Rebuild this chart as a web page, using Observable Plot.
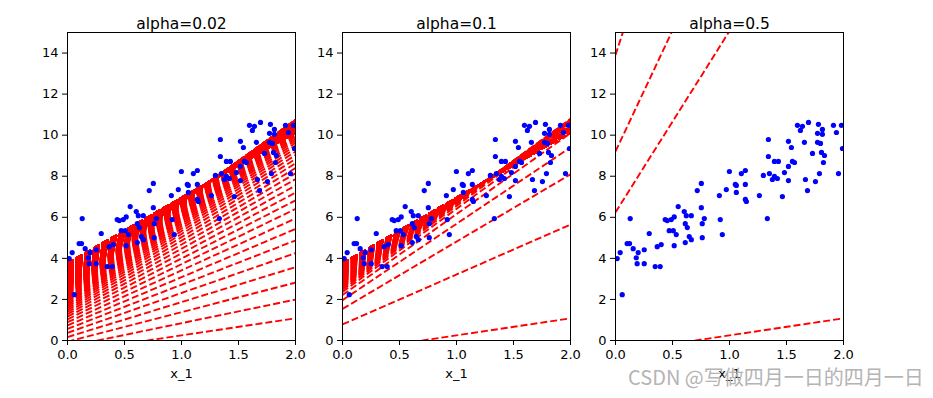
<!DOCTYPE html>
<html><head><meta charset="utf-8">
<script src="https://cdn.jsdelivr.net/npm/d3@7"></script>
<script src="https://cdn.jsdelivr.net/npm/@observablehq/plot@0.6"></script>
<style>
body{margin:0;background:#fff;}
#wrap{position:relative;width:933px;height:398px;overflow:hidden;background:#fff;}
.panel{position:absolute;top:0;}
#wm{position:absolute;left:628px;top:364px;font-size:20px;font-family:"Noto Sans CJK SC","Noto Sans",sans-serif;color:#b4b4b4;white-space:nowrap;line-height:26px;}
</style></head><body>
<div id="wrap"><div id="wm">CSDN @写做四月一日的四月一日</div></div>
<script>
// scatter data
const xData = [0.015,0.041,0.059,0.102,0.123,0.129,0.155,0.182,0.190,0.199,0.252,0.252,0.296,0.348,0.366,0.392,0.401,0.436,0.454,0.471,0.489,0.507,0.515,0.515,0.533,0.550,0.603,0.612,0.621,0.630,0.612,0.647,0.665,0.665,0.717,0.753,0.753,0.761,0.761,0.779,0.911,0.919,0.937,0.972,0.999,1.051,1.060,1.060,1.104,1.139,1.139,1.139,1.148,1.262,1.297,1.332,1.341,1.341,1.350,1.376,1.394,1.394,1.420,1.429,1.464,1.482,1.517,1.517,1.517,1.543,1.552,1.570,1.596,1.622,1.640,1.657,1.666,1.684,1.693,1.728,1.754,1.772,1.772,1.780,1.789,1.798,1.815,1.815,1.824,1.833,1.912,1.938,1.956,1.982,1.991,1.807];
const yData = [3.99,4.28,2.23,4.72,4.72,5.94,4.47,4.03,3.74,4.28,4.42,3.74,5.21,3.60,4.57,3.60,4.67,5.89,5.84,5.35,5.89,5.35,6.02,4.62,5.16,6.52,6.28,5.69,6.08,5.50,4.77,5.06,6.08,4.91,7.30,7.65,6.47,5.69,5.01,5.94,7.06,5.89,5.16,7.35,8.23,7.60,7.21,7.55,8.13,8.28,7.60,6.87,6.77,7.06,8.04,5.94,9.79,8.96,8.13,7.84,8.72,7.99,7.89,8.72,7.01,8.18,9.70,8.48,7.79,9.40,8.72,8.67,10.48,10.23,10.43,9.65,7.84,7.30,10.62,9.11,7.74,10.09,9.65,10.53,8.13,9.60,10.28,10.04,8.67,9.01,10.48,10.13,8.13,10.48,9.35,9.16];
// learning rates, starting parameters, iterations
const etas = [0.02, 0.1, 0.5];
const titles = ["alpha=0.02", "alpha=0.1", "alpha=0.5"];
const theta0 = [-0.58, 0.83];
const nIterations = 1000;
const xNew = [0, 2];
const xTicks = [0, 0.5, 1, 1.5, 2];
const yTicks = [0, 2, 4, 6, 8, 10, 12, 14];
const xLabel = "x_1";

const points = xData.map((x, i) => ({x, y: yData[i]}));

function descent(eta) {
  let b = theta0[0], m = theta0[1];
  const n = xData.length, out = [];
  for (let k = 0; k < nIterations; ++k) {
    out.push({k, b, m});
    let gb = 0, gm = 0;
    for (let i = 0; i < n; ++i) {
      const e = b + m * xData[i] - yData[i];
      gb += e; gm += e * xData[i];
    }
    b -= eta * 2 / n * gb;
    m -= eta * 2 / n * gm;
    if (!isFinite(b) || !isFinite(m)) break;
  }
  return out.filter(d => {
    const y0 = d.b + d.m * xNew[0], y1 = d.b + d.m * xNew[1];
    if (!isFinite(y0) || !isFinite(y1) || Math.abs(y0) > 1e5 || Math.abs(y1) > 1e5) return false;
    if (y0 < 0 && y1 < 0) return false;
    if (y0 > 15 && y1 > 15) return false;
    return true;
  });
}

const frameLefts = [67, 342, 615];
const wrap = document.getElementById("wrap");
etas.forEach((eta, j) => {
  const lines = descent(eta);
  const chart = Plot.plot({
    width: 300, height: 398,
    marginLeft: 60, marginRight: 12, marginTop: 32, marginBottom: 58,
    style: {fontFamily: "DejaVu Sans", fontSize: "13px", color: "black", background: "none", overflow: "visible"},
    x: {domain: [0, 2], ticks: xTicks, tickFormat: d => d.toFixed(1), tickSize: 5, tickPadding: 4, label: null},
    y: {domain: [0, 15], ticks: yTicks, tickFormat: d => String(d), tickSize: 5, tickPadding: 4, label: null},
    marks: [
      Plot.link(lines, {x1: () => xNew[0], x2: () => xNew[1], y1: d => d.b + d.m * xNew[0], y2: d => d.b + d.m * xNew[1],
        stroke: "#ff0000", strokeWidth: 1.9, strokeDasharray: "7,3", clip: true}),
      Plot.dot(points, {x: "x", y: "y", r: 2.6, fill: "#0000ff", stroke: null, clip: true}),
      Plot.frame({stroke: "black", strokeWidth: 1}),
      Plot.text([titles[j]], {text: d => d, frameAnchor: "top", dy: -15, fontSize: 15.5}),
      Plot.text([xLabel], {text: d => d, frameAnchor: "bottom", dy: 37, fontSize: 13})
    ]
  });
  chart.classList.add("panel");
  chart.style.left = (frameLefts[j] - 60) + "px";
  chart.style.position = "absolute";
  chart.style.top = "0px";
  wrap.insertBefore(chart, document.getElementById("wm"));
});
</script>
</body></html>
